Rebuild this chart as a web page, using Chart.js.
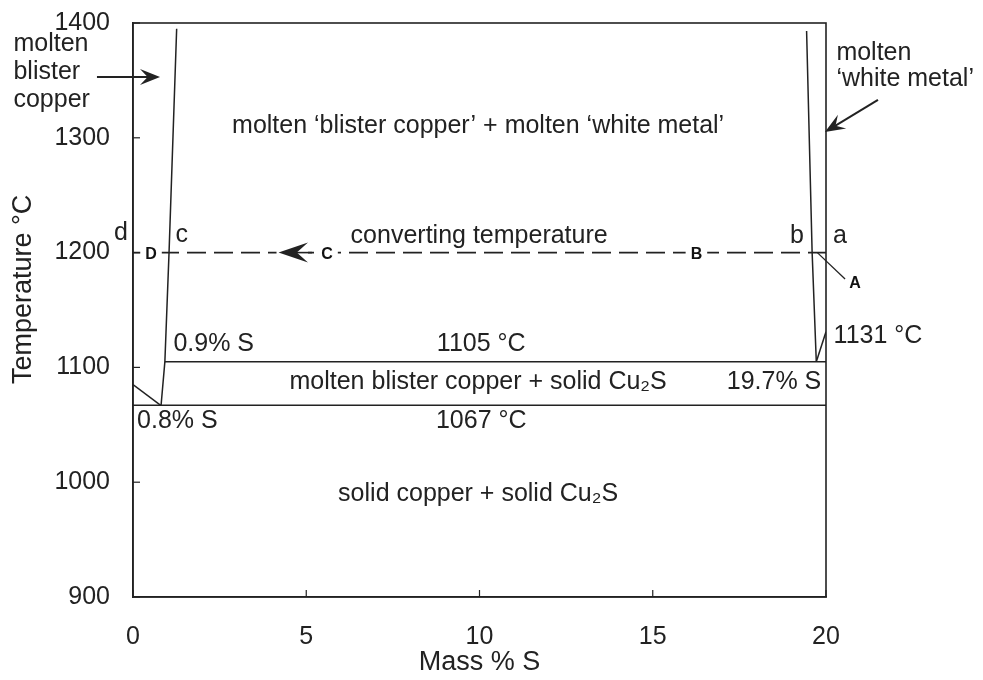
<!DOCTYPE html>
<html>
<head>
<meta charset="utf-8">
<script src="https://cdn.jsdelivr.net/npm/chart.js@4.4.1/dist/chart.umd.min.js"></script>
<style>
html,body{margin:0;padding:0;background:#fff;}
#wrap{width:983px;height:680px;position:relative;}
</style>
</head>
<body>
<div id="wrap"><canvas id="c" width="983" height="680"></canvas></div>
<script>
// ---- data (Mass % S, Temperature °C) ----
const xTicks = [0, 5, 10, 15, 20];
const yTicks = [900, 1000, 1100, 1200, 1300, 1400];
const liquidusCuX = [0.81, 0.92, 1.04, 1.26];
const liquidusCuT = [1067, 1105, 1200, 1395];
const liquidusCu2SX = [19.72, 19.6, 19.44];
const liquidusCu2ST = [1105, 1200, 1393];
const cu2sRiseX = [19.72, 20];
const cu2sRiseT = [1105, 1131];
const cuSolidusX = [0, 0.8];
const cuSolidusT = [1085, 1067];
const monotecticX = [0.92, 20];
const monotecticT = [1105, 1105];
const eutecticX = [0, 20];
const eutecticT = [1067, 1067];
const convertX = [0, 20];
const convertT = [1200, 1200];
const leaderAX = [19.75, 20.55];
const leaderAT = [1200, 1177];

// ---- annotations (text, x in mass % S, T in °C) ----
const regionLabels = [
  ["molten \u2018blister copper\u2019 + molten \u2018white metal\u2019", 9.96, 1310],
  ["converting temperature", 9.99, 1214],
  ["0.9% S", 2.33, 1120],
  ["1105 \u00B0C", 10.05, 1120],
  ["molten blister copper + solid Cu\u2082S", 9.96, 1087],
  ["19.7% S", 18.5, 1087],
  ["0.8% S", 1.28, 1053],
  ["1067 \u00B0C", 10.05, 1053],
  ["solid copper + solid Cu\u2082S", 9.96, 990],
  ["1131 \u00B0C", 21.5, 1127],
  ["d", -0.35, 1217],
  ["c", 1.41, 1215],
  ["b", 19.16, 1214],
  ["a", 20.4, 1214]
];
const pointLabels = [["D", 0.52, 1199], ["C", 5.6, 1199], ["B", 16.26, 1199], ["A", 20.84, 1174]];
const sideLabels = [
  ["molten", -3.45, 1382], ["blister", -3.45, 1357], ["copper", -3.45, 1333],
  ["molten", 20.3, 1374], ["\u2018white metal\u2019", 20.3, 1351]
];
const arrows = [ // [fromX, fromT, toX, toT]
  [-1.04, 1353, 0.78, 1353],
  [21.5, 1333, 19.97, 1305]
];
const convertArrow = [5.05, 4.2, 1200]; // back x, tip x, T
const yTitle = "Temperature \u00B0C";
const xTitle = "Mass % S";

const INK = '#222';
const FONT = '"Liberation Sans", Arial, sans-serif';

function pts(xs, ts){ return xs.map((x,i)=>({x:x, y:ts[i]})); }
function seg(xs, ts, extra){
  return Object.assign({data: pts(xs, ts), showLine: true, borderColor: INK, borderWidth: 1.5,
    pointRadius: 0, fill: false, tension: 0}, extra||{});
}

const overlay = {
  id: 'overlay',
  afterDatasetsDraw(chart){
    const ctx = chart.ctx, xs = chart.scales.x, ys = chart.scales.y, a = chart.chartArea;
    const X = v=>xs.getPixelForValue(v), Y = v=>ys.getPixelForValue(v);
    ctx.save();
    // frame
    ctx.strokeStyle = INK; ctx.lineWidth = 1.6;
    ctx.strokeRect(a.left, a.top, a.right-a.left, a.bottom-a.top);
    // inward ticks
    ctx.lineWidth = 1.2;
    yTicks.forEach(t=>{ ctx.beginPath(); ctx.moveTo(a.left, Y(t)); ctx.lineTo(a.left+7, Y(t)); ctx.stroke(); });
    xTicks.forEach(t=>{ ctx.beginPath(); ctx.moveTo(X(t), a.bottom); ctx.lineTo(X(t), a.bottom-7); ctx.stroke(); });
    // point labels with white background
    ctx.font = 'bold 16px ' + FONT;
    ctx.textAlign = 'center'; ctx.textBaseline = 'middle';
    pointLabels.forEach(([s,x,t])=>{
      const w = ctx.measureText(s).width + 10;
      if (s !== 'A') { ctx.fillStyle = '#fff'; ctx.fillRect(X(x)-w/2, Y(t)-8, w, 16); }
      ctx.fillStyle = '#111'; ctx.fillText(s, X(x), Y(t)+1);
    });
    // region labels
    ctx.font = '25px ' + FONT; ctx.fillStyle = INK;
    regionLabels.forEach(([s,x,t])=>{ ctx.fillText(s, X(x), Y(t)); });
    ctx.textAlign = 'left';
    sideLabels.forEach(([s,x,t])=>{ ctx.fillText(s, X(x), Y(t)); });
    // axis titles
    ctx.textAlign = 'center';
    ctx.font = '27px ' + FONT;
    ctx.fillText(xTitle, (a.left+a.right)/2, 663);
    ctx.save(); ctx.translate(24, Y(1168)); ctx.rotate(-Math.PI/2);
    ctx.fillText(yTitle, 0, 0); ctx.restore();
    // straight arrows
    ctx.strokeStyle = INK; ctx.fillStyle = INK; ctx.lineWidth = 2;
    arrows.forEach(([x1,t1,x2,t2])=>{
      const px1=X(x1), py1=Y(t1), px2=X(x2), py2=Y(t2);
      const ang = Math.atan2(py2-py1, px2-px1);
      ctx.beginPath(); ctx.moveTo(px1,py1); ctx.lineTo(px2-8*Math.cos(ang), py2-8*Math.sin(ang)); ctx.stroke();
      drawHead(ctx, px2, py2, ang, 20, 8);
    });
    // arrow on converting line
    const bx = X(convertArrow[0]), tx = X(convertArrow[1]), cy = Y(convertArrow[2]);
    ctx.fillStyle = '#fff'; ctx.fillRect(tx-2, cy-4, bx-tx+2, 8);
    ctx.fillStyle = INK; ctx.strokeStyle = INK; ctx.lineWidth = 1.6;
    ctx.beginPath(); ctx.moveTo(tx+10, cy); ctx.lineTo(bx+4, cy); ctx.stroke();
    drawHead(ctx, tx, cy, Math.PI, bx-tx, 10);
    ctx.restore();
  }
};
function drawHead(ctx, x, y, ang, len, half){
  ctx.save(); ctx.translate(x,y); ctx.rotate(ang);
  ctx.beginPath();
  ctx.moveTo(0,0);
  ctx.lineTo(-len, -half);
  ctx.lineTo(-len*0.62, 0);
  ctx.lineTo(-len, half);
  ctx.closePath(); ctx.fill();
  ctx.restore();
}

new Chart(document.getElementById('c'), {
  type: 'scatter',
  data: { datasets: [
    seg(liquidusCuX, liquidusCuT),
    seg(liquidusCu2SX, liquidusCu2ST),
    seg(cu2sRiseX, cu2sRiseT),
    seg(cuSolidusX, cuSolidusT),
    seg(monotecticX, monotecticT),
    seg(eutecticX, eutecticT),
    seg(convertX, convertT, {borderDash: [19, 8], borderWidth: 1.6}),
    seg(leaderAX, leaderAT, {clip: false, borderWidth: 1.3})
  ]},
  options: {
    responsive: false, animation: false, events: [],
    layout: { padding: { top: 23, right: 157, left: 0, bottom: 0 } },
    plugins: { legend: {display: false}, tooltip: {enabled: false} },
    scales: {
      x: {
        type: 'linear', min: 0, max: 20,
        afterBuildTicks: s => { s.ticks = xTicks.map(v=>({value:v})); },
        afterFit: s => { s.height = 83; s.paddingLeft = 0; s.paddingRight = 0; },
        grid: { display: true, drawOnChartArea: false, drawTicks: false, color: INK },
        border: { display: true, color: INK, width: 1.6 },
        ticks: { color: INK, font: { family: FONT, size: 25 }, padding: 25, callback: v => String(v) },
        title: { display: false }
      },
      y: {
        type: 'linear', min: 900, max: 1400,
        afterBuildTicks: s => { s.ticks = yTicks.map(v=>({value:v})); },
        afterFit: s => { s.width = 133; s.paddingTop = 0; s.paddingBottom = 0; },
        grid: { display: true, drawOnChartArea: false, drawTicks: false, color: INK },
        border: { display: true, color: INK, width: 1.6 },
        ticks: { color: INK, font: { family: FONT, size: 25 }, padding: 23, callback: v => String(v) },
        title: { display: false }
      }
    }
  },
  plugins: [overlay]
});
</script>
</body>
</html>
